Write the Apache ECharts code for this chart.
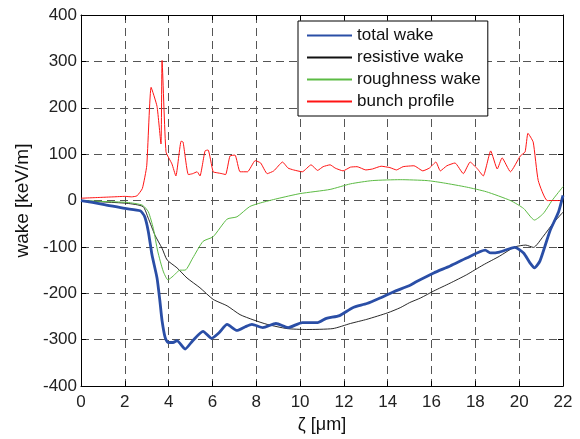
<!DOCTYPE html>
<html>
<head>
<meta charset="utf-8">
<script src="https://cdn.jsdelivr.net/npm/echarts@6/dist/echarts.min.js"></script>
<style>
html,body{margin:0;padding:0;background:#fff;}
#chart{width:580px;height:439px;}
</style>
</head>
<body>
<div id="chart"></div>
<script>
// ---- data ----
const xTicks = [0, 2, 4, 6, 8, 10, 12, 14, 16, 18, 20, 22];
const yTicks = [-400, -300, -200, -100, 0, 100, 200, 300, 400];

const totalZeta = [0, 1, 2, 2.7, 2.9, 3.07, 3.24, 3.47, 3.6, 3.7, 3.84, 3.97, 4.2, 4.38, 4.75, 5.1, 5.57, 5.96, 6.3, 6.67, 7.12, 7.5, 7.8, 8.3, 8.9, 9.45, 10.1, 10.8, 11.2, 11.8, 12.4, 13.05, 13.65, 14.25, 15.0, 15.3, 16.1, 16.85, 17.6, 18.45, 18.7, 19.1, 19.8, 20.2, 20.5, 20.7, 20.95, 21.4, 21.8, 22.0];
const totalWake = [0, -8, -17, -22, -34, -66, -117, -167, -216, -259, -295, -306, -306, -302, -320, -302, -282, -297, -285, -267, -280, -272, -267, -274, -265, -274, -263, -263, -254, -248, -231, -222, -210, -197, -183, -175, -156, -141, -124, -107, -113, -111, -101, -113, -135, -145, -130, -66, -24, 11];

const resZeta = [0, 1, 2.1, 2.83, 3.07, 3.38, 3.7, 3.93, 4.38, 4.84, 5.43, 6.03, 6.67, 7.26, 7.85, 8.5, 9.4, 10.3, 11.5, 12.3, 13.05, 14.0, 14.57, 15.0, 15.5, 16.1, 16.85, 17.6, 18.35, 19.1, 19.8, 20.3, 20.65, 21.1, 21.55, 22.0];
const resWake = [0, -3, -6, -13, -38, -75, -103, -128, -145, -167, -188, -213, -227, -246, -257, -267, -276, -278, -276, -265, -256, -242, -231, -220, -210, -195, -178, -160, -139, -120, -100, -96, -101, -77, -49, -25];

const roughZeta = [0, 1, 2.1, 2.8, 3.07, 3.3, 3.5, 3.75, 3.97, 4.2, 4.52, 4.75, 5.1, 5.57, 6.03, 6.67, 7.12, 7.7, 8.2, 8.95, 10.0, 11.37, 12.3, 13.3, 14.57, 15.8, 16.55, 17.6, 18.5, 19.6, 20.2, 20.7, 21.1, 21.5, 22.0];
const roughWake = [0, -2, -4, -10, -24, -60, -109, -152, -171, -163, -150, -150, -124, -88, -78, -40, -35, -13, -5, 4, 15, 24, 36, 43, 45, 43, 38, 29, 19, 0, -17, -42, -28, 0, 30];

const bunchZeta = [0, 0.5, 1, 1.5, 2, 2.3, 2.55, 2.8, 3.0, 3.2, 3.47, 3.65, 3.7, 3.88, 4.15, 4.33, 4.57, 4.66, 4.9, 5.1, 5.3, 5.43, 5.66, 5.8, 6.03, 6.2, 6.43, 6.6, 6.8, 7.03, 7.26, 7.6, 7.95, 8.2, 8.5, 8.8, 9.2, 9.45, 9.7, 10.1, 10.5, 10.8, 11.05, 11.37, 11.6, 11.96, 12.3, 12.6, 13.0, 13.3, 13.7, 14.1, 14.4, 14.7, 15.2, 15.6, 15.9, 16.2, 16.4, 16.7, 17.07, 17.45, 17.76, 18.1, 18.36, 18.7, 19.0, 19.22, 19.6, 20.05, 20.27, 20.4, 20.64, 20.87, 21.28, 22.0];
const bunchProfile = [5, 6, 7, 8, 9, 8, 10, 26, 75, 244, 203, 122, 302, 105, 79, 53, 128, 126, 56, 58, 62, 53, 107, 109, 62, 60, 58, 56, 96, 98, 62, 62, 86, 81, 58, 64, 83, 70, 66, 62, 77, 65, 73, 77, 70, 64, 72, 73, 66, 68, 74, 71, 66, 73, 75, 64, 70, 83, 64, 75, 81, 58, 83, 68, 53, 107, 68, 92, 62, 96, 105, 145, 126, 43, 0, 0];

const zip = (xs, ys) => xs.map((x, i) => [x, ys[i]]);

const FONT = 'Liberation Sans, Arial, Helvetica, sans-serif';
const gridDash = { color: '#555', width: 1, type: [8, 5] };
const legendIcon = 'rect';

const chart = echarts.init(document.getElementById('chart'), null, { renderer: 'canvas' });

const option = {
  animation: false,
  backgroundColor: '#fff',
  grid: { left: 81, right: 17, top: 15, bottom: 50, containLabel: false },
  legend: {
    orient: 'vertical',
    left: 298,
    top: 21,
    padding: [6, 7, 6, 9],
    itemGap: 5,
    itemWidth: 45,
    itemHeight: 2,
    icon: legendIcon,
    backgroundColor: '#fff',
    borderColor: '#000',
    borderWidth: 1,
    borderRadius: 0,
    textStyle: { fontFamily: FONT, fontSize: 17, color: '#111', lineHeight: 17 },
    data: ['total wake', 'resistive wake', 'roughness wake', 'bunch profile']
  },
  xAxis: [
    {
      type: 'value', min: 0, max: 22, interval: 2,
      name: 'ζ [μm]', nameLocation: 'middle', nameGap: 29,
      nameTextStyle: { fontFamily: FONT, fontSize: 18, color: '#111' },
      axisLine: { show: true, onZero: false, lineStyle: { color: '#000', width: 1 } },
      axisTick: { show: true, inside: true, length: 5, lineStyle: { color: '#000' } },
      axisLabel: { fontFamily: FONT, fontSize: 17, color: '#222', margin: 8,
                   formatter: v => xTicks.includes(v) ? String(v) : '' },
      splitLine: { show: true, lineStyle: gridDash }
    },
    {
      type: 'value', min: 0, max: 22, interval: 2, position: 'top',
      axisLine: { show: true, onZero: false, lineStyle: { color: '#000', width: 1 } },
      axisTick: { show: true, inside: true, length: 5, lineStyle: { color: '#000' } },
      axisLabel: { show: false }, splitLine: { show: false }
    }
  ],
  yAxis: [
    {
      type: 'value', min: -400, max: 400, interval: 100,
      name: 'wake [keV/m]', nameLocation: 'middle', nameGap: 47, nameRotate: 90,
      nameTextStyle: { fontFamily: FONT, fontSize: 19, color: '#111' },
      axisLine: { show: true, onZero: false, lineStyle: { color: '#000', width: 1 } },
      axisTick: { show: true, inside: true, length: 5, lineStyle: { color: '#000' } },
      axisLabel: { fontFamily: FONT, fontSize: 17, color: '#222', margin: 4,
                   formatter: v => yTicks.includes(v) ? String(v) : '' },
      splitLine: { show: true, lineStyle: gridDash }
    },
    {
      type: 'value', min: -400, max: 400, interval: 100, position: 'right',
      axisLine: { show: true, onZero: false, lineStyle: { color: '#000', width: 1 } },
      axisTick: { show: true, inside: true, length: 5, lineStyle: { color: '#000' } },
      axisLabel: { show: false }, splitLine: { show: false }
    }
  ],
  series: [
    {
      name: 'total wake', type: 'line', showSymbol: false, symbol: 'none', smooth: 0.2,
      data: zip(totalZeta, totalWake),
      lineStyle: { color: '#2a4ea6', width: 2.8 }, itemStyle: { color: '#2a4ea6' }, z: 4
    },
    {
      name: 'resistive wake', type: 'line', showSymbol: false, symbol: 'none', smooth: 0.2,
      data: zip(resZeta, resWake),
      lineStyle: { color: '#111', width: 0.9 }, itemStyle: { color: '#111' }, z: 3
    },
    {
      name: 'roughness wake', type: 'line', showSymbol: false, symbol: 'none', smooth: 0.2,
      data: zip(roughZeta, roughWake),
      lineStyle: { color: '#5cbb44', width: 1 }, itemStyle: { color: '#5cbb44' }, z: 3
    },
    {
      name: 'bunch profile', type: 'line', showSymbol: false, symbol: 'none', smooth: 0.15,
      data: zip(bunchZeta, bunchProfile),
      lineStyle: { color: '#ff1414', width: 1 }, itemStyle: { color: '#ff1414' }, z: 3
    }
  ]
};
chart.setOption(option);
</script>
</body>
</html>
